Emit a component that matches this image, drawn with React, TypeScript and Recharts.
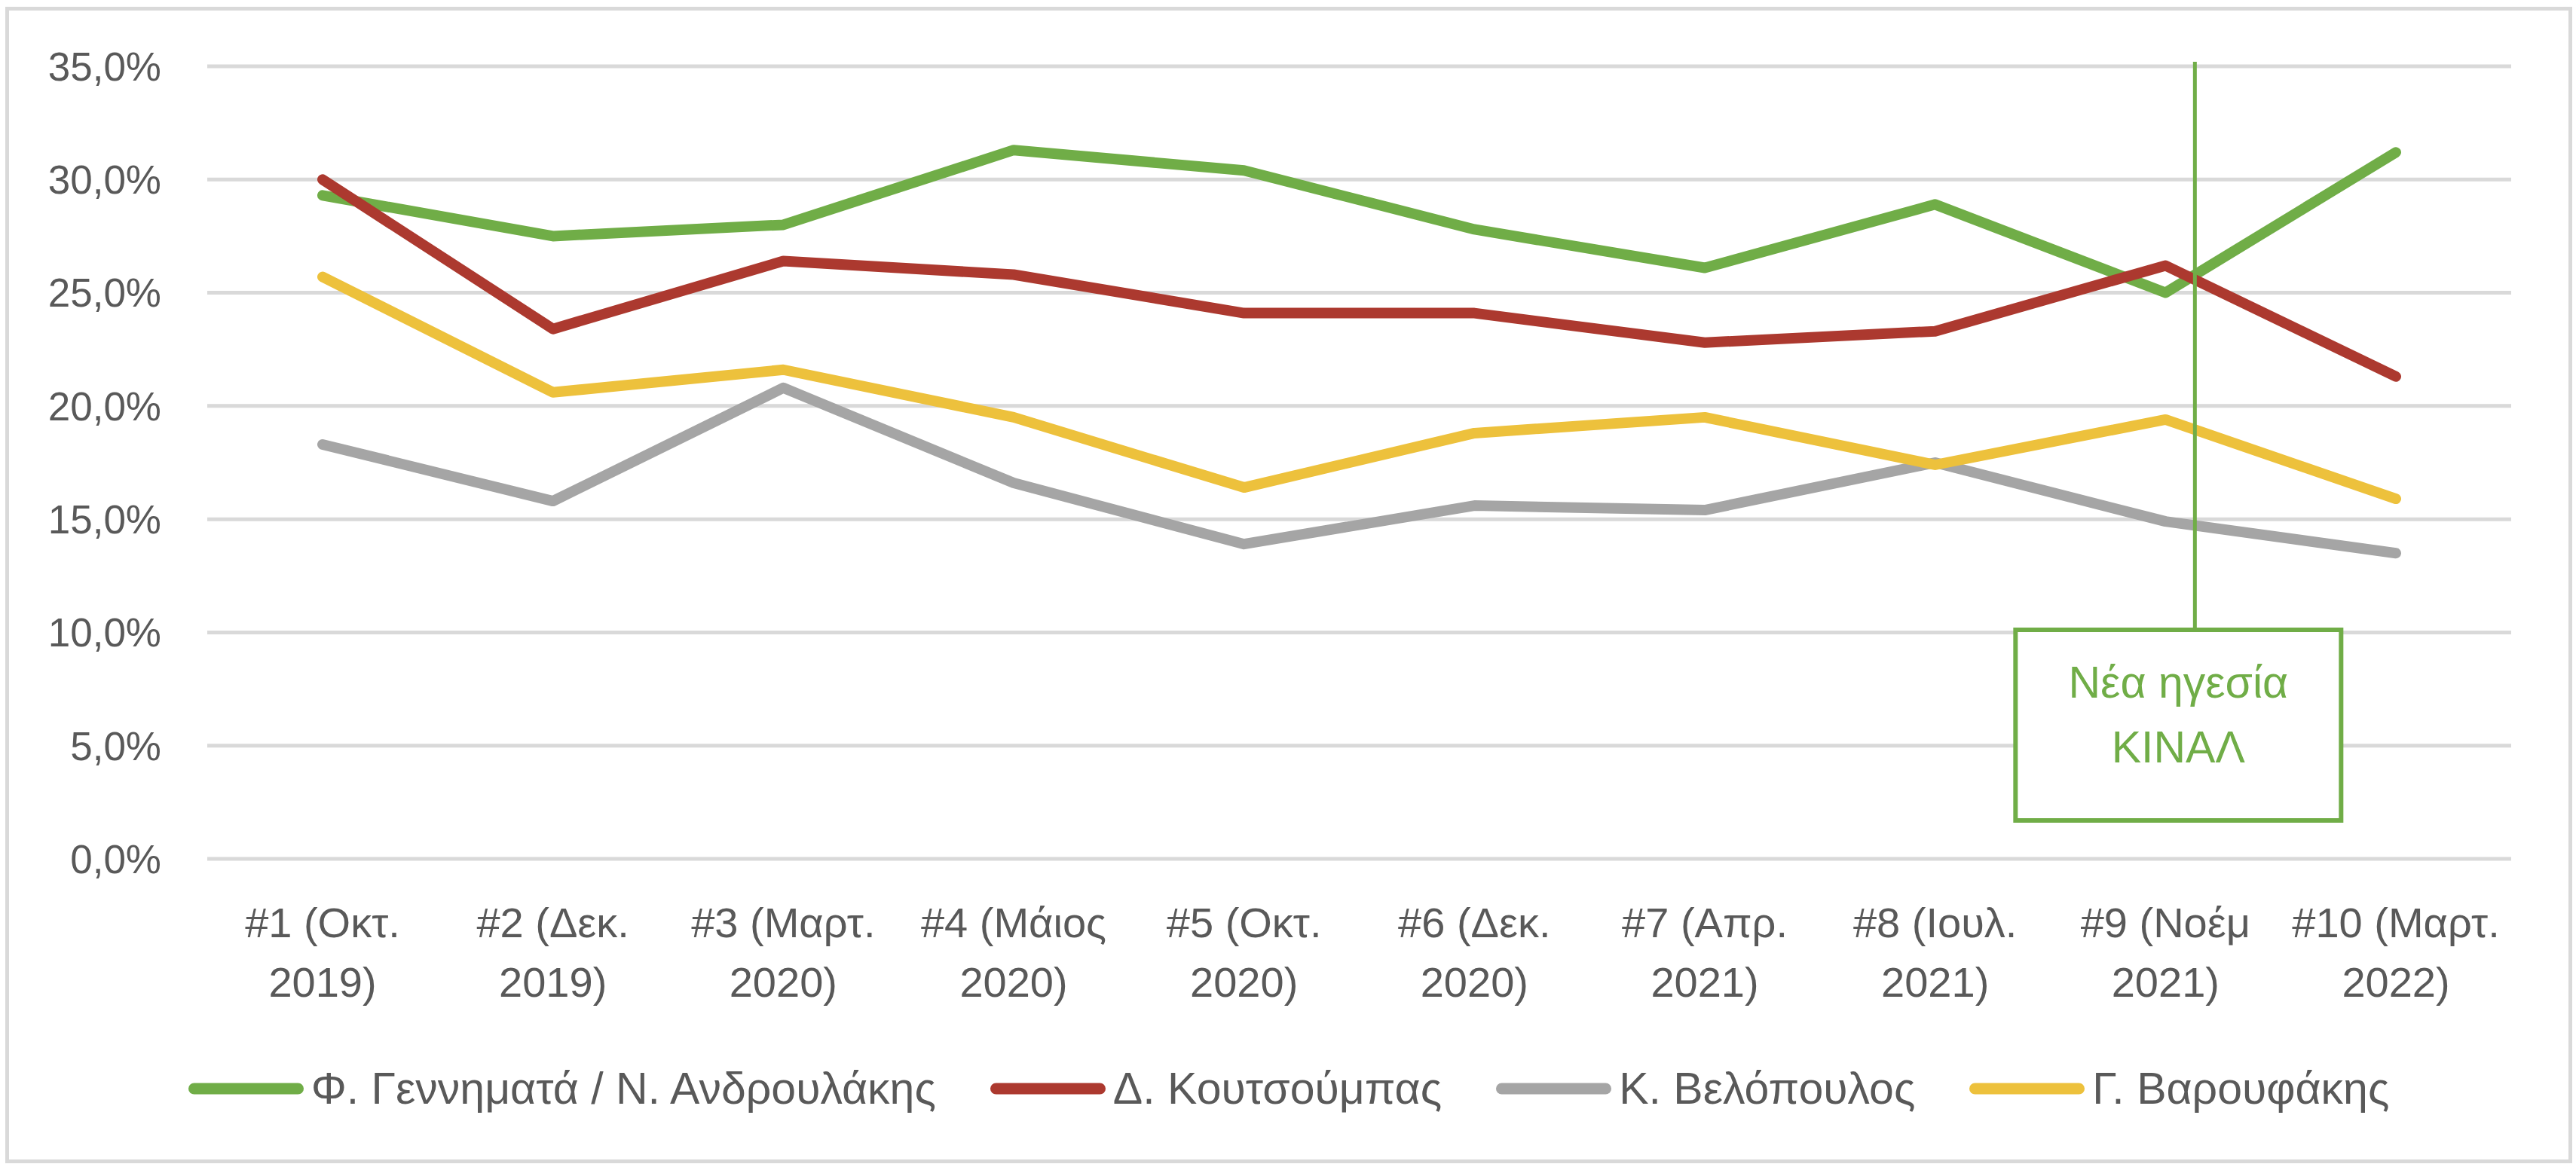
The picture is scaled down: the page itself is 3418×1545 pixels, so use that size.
import React from 'react';
import { LineChart, Line, XAxis, YAxis, CartesianGrid, Legend, ReferenceLine } from 'recharts';

const categoryLines: string[][] = [
  ['#1 (Οκτ.', '2019)'],
  ['#2 (Δεκ.', '2019)'],
  ['#3 (Μαρτ.', '2020)'],
  ['#4 (Μάιος', '2020)'],
  ['#5 (Οκτ.', '2020)'],
  ['#6 (Δεκ.', '2020)'],
  ['#7 (Απρ.', '2021)'],
  ['#8 (Ιουλ.', '2021)'],
  ['#9 (Νοέμ', '2021)'],
  ['#10 (Μαρτ.', '2022)'],
];
const categories = categoryLines.map((l) => l.join(' '));

const gennimata = [29.3, 27.5, 28.0, 31.3, 30.4, 27.8, 26.1, 28.9, 25.0, 31.2];
const koutsoumpas = [30.0, 23.4, 26.4, 25.8, 24.1, 24.1, 22.8, 23.3, 26.2, 21.3];
const velopoulos = [18.3, 15.8, 20.8, 16.6, 13.9, 15.6, 15.4, 17.5, 14.9, 13.5];
const varoufakis = [25.7, 20.6, 21.6, 19.5, 16.4, 18.8, 19.5, 17.4, 19.4, 15.9];

const yTicks = [0, 5, 10, 15, 20, 25, 30, 35];

const seriesNames = [
  'Φ. Γεννηματά / Ν. Ανδρουλάκης',
  'Δ. Κουτσούμπας',
  'Κ. Βελόπουλος',
  'Γ. Βαρουφάκης',
];
const seriesKeys = ['g', 'k', 'v', 'y'];
const seriesColors = ['#70AD47', '#AC392F', '#A5A5A5', '#EDC13C'];

const annotationLines = ['Νέα ηγεσία', 'ΚΙΝΑΛ'];
const annotationCategory = categories[8];

const data = categories.map((c, i) => ({
  name: c,
  g: gennimata[i],
  k: koutsoumpas[i],
  v: velopoulos[i],
  y: varoufakis[i],
}));

const FONT = '"Liberation Sans", Arial, sans-serif';
const TEXT = '#595959';

const XTick = (props: any) => {
  const { x, y, payload } = props;
  const idx = categories.indexOf(payload.value);
  const lines = idx >= 0 ? categoryLines[idx] : [String(payload.value)];
  return (
    <g>
      {lines.map((ln, i) => (
        <text
          key={i}
          x={x}
          y={y + 104 + i * 79}
          textAnchor="middle"
          fill={TEXT}
          fontSize={56}
          fontFamily={FONT}
        >
          {ln}
        </text>
      ))}
    </g>
  );
};

const LegendContent = () => (
  <div
    style={{
      display: 'flex',
      justifyContent: 'center',
      alignItems: 'center',
      height: 60,
      fontFamily: FONT,
    }}
  >
    {seriesNames.map((n, i) => (
      <div
        key={n}
        style={{
          display: 'flex',
          alignItems: 'center',
          marginRight: i < seriesNames.length - 1 ? 72 : 0,
        }}
      >
        <svg width={153} height={20} style={{ marginRight: 10 }}>
          <line x1={7.5} y1={10} x2={145.5} y2={10} stroke={seriesColors[i]} strokeWidth={15} strokeLinecap="round" />
        </svg>
        <span style={{ fontSize: 59, color: TEXT, whiteSpace: 'nowrap', lineHeight: '60px' }}>{n}</span>
      </div>
    ))}
  </div>
);

const AnnotationShape = (props: any) => {
  const { x1, y1, y2 } = props;
  const top = Math.min(y1, y2);
  const lx = x1 + 39;
  const green = '#70AD47';
  const cx = lx - 22;
  return (
    <g>
      <line x1={lx} y1={top - 6} x2={lx} y2={top + 748} stroke={green} strokeWidth={5} />
      <rect x={lx - 238} y={top + 748} width={432} height={253} fill="#ffffff" stroke={green} strokeWidth={6} />
      {annotationLines.map((t, i) => (
        <text key={i} x={cx} y={top + 838 + i * 86} textAnchor="middle" fill={green} fontSize={59} fontFamily={FONT}>
          {t}
        </text>
      ))}
    </g>
  );
};

export default function App() {
  return (
    <div
      style={{
        position: 'fixed',
        left: 7,
        top: 9,
        width: 3406,
        height: 1535,
        border: '5px solid #d9d9d9',
        boxSizing: 'border-box',
        background: '#ffffff',
        fontFamily: FONT,
      }}
    >
      <LineChart
        width={3396}
        height={1525}
        data={data}
        margin={{ top: 74, right: 76, left: 0, bottom: 99 }}
      >
        <CartesianGrid vertical={false} stroke="#d9d9d9" strokeWidth={5} />
        <XAxis
          dataKey="name"
          axisLine={false}
          tickLine={false}
          tickSize={0}
          tickMargin={0}
          height={300}
          interval={0}
          padding={{ left: 153, right: 153 }}
          tick={<XTick />}
        />
        <YAxis
          width={263}
          domain={[0, 35]}
          ticks={yTicks}
          axisLine={false}
          tickLine={false}
          tickSize={0}
          tickMargin={61}
          tickFormatter={(v: number) => v.toFixed(1).replace('.', ',') + '%'}
          tick={{ fill: TEXT, fontSize: 53, fontFamily: FONT }}
        />
        {seriesKeys.map((k, i) => (
          <Line
            key={k}
            type="linear"
            dataKey={k}
            name={seriesNames[i]}
            stroke={seriesColors[i]}
            strokeWidth={14}
            strokeLinecap="round"
            strokeLinejoin="round"
            dot={false}
            activeDot={false}
            isAnimationActive={false}
          />
        ))}
        <ReferenceLine x={annotationCategory} shape={AnnotationShape} ifOverflow="visible" />
        <Legend
          layout="horizontal"
          align="center"
          verticalAlign="middle"
          wrapperStyle={{ top: 1401, left: 0, width: 3396, height: 60 }}
          content={<LegendContent />}
        />
      </LineChart>
    </div>
  );
}
